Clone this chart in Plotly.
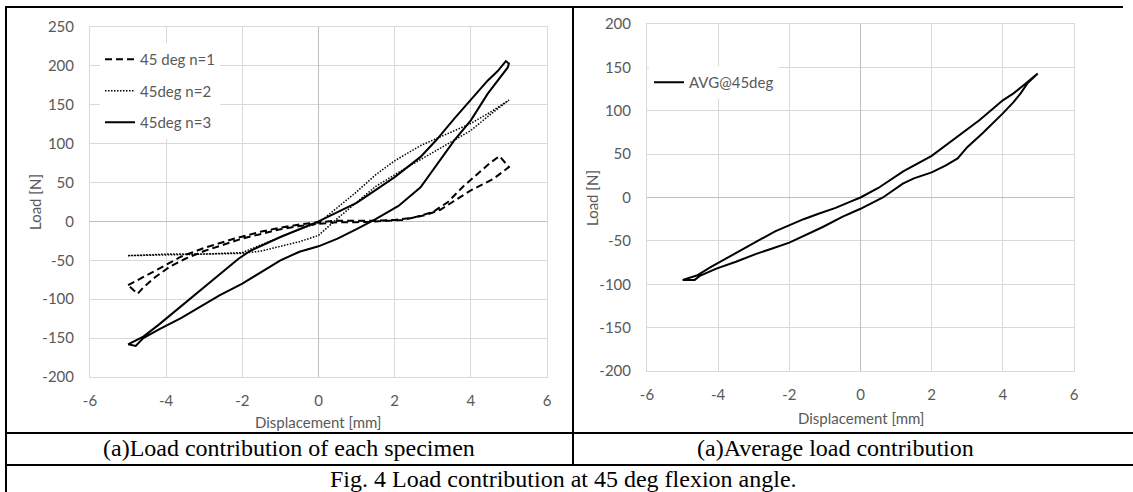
import plotly.graph_objects as go

W, H = 1133, 492

# specimen n=1 (dashed loop)
n1_x = [-5.0, -4.6, -4.16, -3.6, -3.0, -2.2, -1.5, -1.0, -0.5, 0.0, 0.5, 1.0, 1.5, 2.0, 2.5, 3.0,
        3.4, 3.8, 4.2, 4.5, 4.75, 5.0,
        4.6, 4.2, 4.0, 3.55, 3.2, 2.8, 2.2, 1.5, 1.0, 0.5, 0.0, -0.5, -1.0, -1.5, -2.0, -2.5,
        -3.0, -3.5, -3.9, -4.3, -4.6, -4.75, -5.0]
n1_y = [-82, -72, -60, -45, -34, -22, -13, -8, -4, -1, 1, 1, 1, 2, 5, 12,
        25, 45, 62, 75, 84, 70,
        55, 45, 40, 26, 15, 8, 2, 0, -1, -1, -3, -6, -10, -16, -22, -30,
        -38, -48, -58, -72, -85, -93, -82]

# specimen n=2 (dotted loop)
n2_x = [-5.0, -4.0, -3.0, -2.0, -1.5, -1.0, -0.5, 0.0, 0.5, 1.0, 1.5, 2.0, 2.7, 3.3, 4.0, 4.5, 5.0,
        4.5, 4.0, 3.3, 2.7, 2.2, 1.5, 1.0, 0.5, 0.0, -0.5, -1.0, -1.5, -2.0, -3.0, -4.0, -5.0]
n2_y = [-44, -42, -42, -40, -30, -20, -10, -2, 18, 38, 60, 78, 98, 111, 126, 140, 156,
        137, 117, 97, 80, 66, 45, 25, 4, -18, -26, -32, -38, -41, -42, -43, -44]

# specimen n=3 (solid loop)
n3_x = [-5.0, -4.6, -4.2, -3.5, -2.8, -2.1, -1.8, -1.0, -0.5, 0.0, 0.5, 1.0, 1.4, 2.0, 2.68, 3.1,
        3.56, 4.0, 4.44, 4.7, 4.92, 5.0,
        4.97, 4.44, 4.0, 3.56, 3.1, 2.68, 2.1, 1.5, 1.0, 0.5, 0.0, -0.5, -1.0, -1.5, -2.0,
        -2.6, -3.1, -3.6, -4.2, -4.6, -4.8, -5.0]
n3_y = [-158, -148, -133, -105, -77, -48, -38, -20, -10, 0, 12, 24, 37, 57, 83, 105,
        132, 156, 181, 193, 206, 203,
        198, 164, 130, 104, 73, 44, 20, 3, -10, -22, -32, -39, -50, -65, -80,
        -95, -110, -124, -139, -150, -160, -158]

# average loop
avg_x = [-5.0, -4.6, -4.2, -3.9, -3.3, -2.8, -2.4, -2.0, -1.6, -1.2, -0.7, -0.3, 0.0, 0.5, 1.2,
         2.0, 2.6, 3.34, 4.0, 4.3, 4.6, 4.98,
         4.7, 4.5, 4.3, 4.0, 3.43, 3.0, 2.73, 2.4, 2.0, 1.5, 1.19, 0.63, 0.0, -0.5, -1.06,
         -1.5, -2.0, -2.5, -2.93, -3.5, -4.05, -4.5, -4.66, -5.0]
avg_y = [-95, -90, -80, -73, -59, -48, -39, -32, -25, -19, -12, -5, 0, 11, 30,
         48, 66, 89, 112, 120, 130, 143,
         132, 120, 110, 97, 74, 58, 45, 37, 29, 22, 16, 0, -13, -22, -34,
         -42, -52, -59, -65, -74, -82, -90, -95, -95]

x_ticks = [-6, -4, -2, 0, 2, 4, 6]
x_labels = ["-6", "-4", "-2", "0", "2", "4", "6"]
y1_ticks = [-200, -150, -100, -50, 0, 50, 100, 150, 200, 250]
y1_labels = ["-200", "-150", "-100", "-50", "0", "50", "100", "150", "200", "250"]
y2_ticks = [-200, -150, -100, -50, 0, 50, 100, 150, 200]
y2_labels = ["-200", "-150", "-100", "-50", "0", "50", "100", "150", "200"]

GRID = "#d9d9d9"
TXT = "#595959"
SANS = "Lato"
SERIF = "Liberation Serif"


def px(v):
    return v / W


def py(v):
    return 1 - v / H


fig = go.Figure()
fig.add_trace(go.Scatter(x=n1_x, y=n1_y, mode="lines", name="45 deg n=1", legendgroup="a",
                         line=dict(color="black", width=2, dash="7px,4px")))
fig.add_trace(go.Scatter(x=n2_x, y=n2_y, mode="lines", name="45deg n=2", legendgroup="b",
                         line=dict(color="black", width=1.5, dash="1.5px,1.5px")))
fig.add_trace(go.Scatter(x=n3_x, y=n3_y, mode="lines", name="45deg n=3", legendgroup="c",
                         line=dict(color="black", width=2)))
fig.add_trace(go.Scatter(x=avg_x, y=avg_y, mode="lines", name="AVG@45deg",
                         xaxis="x2", yaxis="y2", legend="legend2",
                         line=dict(color="black", width=2)))

axis_common = dict(showgrid=True, gridcolor=GRID, gridwidth=1, zeroline=True,
                   zerolinecolor="#bfbfbf", zerolinewidth=1, showline=True, linecolor=GRID,
                   mirror=True, ticks="", automargin=False,
                   tickfont=dict(family=SANS, size=15, color=TXT))

fig.update_layout(
    width=W, height=H, autosize=False,
    margin=dict(l=0, r=0, t=0, b=0, autoexpand=False),
    paper_bgcolor="white", plot_bgcolor="white",
    xaxis=dict(domain=[px(90), px(547)], range=[-6, 6], tickvals=x_ticks, ticktext=x_labels,
               ticklabelstandoff=10, **axis_common),
    yaxis=dict(domain=[py(377), py(27)], range=[-200, 250], tickvals=y1_ticks,
               ticktext=y1_labels, ticklabelstandoff=12, **axis_common),
    xaxis2=dict(domain=[px(647), px(1074)], range=[-6, 6], tickvals=x_ticks, ticktext=x_labels,
                anchor="y2", ticklabelstandoff=10, **axis_common),
    yaxis2=dict(domain=[py(371), py(24)], range=[-200, 200], tickvals=y2_ticks,
                ticktext=y2_labels, anchor="x2", ticklabelstandoff=12, **axis_common),
    legend=dict(x=px(100), y=py(43), xanchor="left", yanchor="top", bgcolor="white",
                font=dict(family=SANS, size=15, color=TXT), tracegroupgap=9,
                itemwidth=30),
    legend2=dict(x=px(649), y=py(66), xanchor="left", yanchor="top", bgcolor="white",
                 font=dict(family=SANS, size=15, color=TXT), itemwidth=30),
    showlegend=True,
)

# axis titles
for xc, yc, t, ang in [(318, 422, "Displacement [mm]", 0), (35, 202, "Load [N]", -90),
                       (861, 418, "Displacement [mm]", 0), (592, 198, "Load [N]", -90)]:
    fig.add_annotation(x=px(xc), y=py(yc), xref="paper", yref="paper", text=t, showarrow=False,
                       textangle=ang, xanchor="center", yanchor="middle",
                       font=dict(family=SANS, size=15, color=TXT))

# caption table
for xc, yc, t in [(289, 448, "(a)Load contribution of each specimen"),
                  (835, 448, "(a)Average load contribution"),
                  (563, 479, "Fig. 4 Load contribution at 45 deg flexion angle.")]:
    fig.add_annotation(x=px(xc), y=py(yc), xref="paper", yref="paper", text=t, showarrow=False,
                       xanchor="center", yanchor="middle",
                       font=dict(family=SERIF, size=24, color="black"))

border = dict(color="black", width=2)
for x0, y0, x1, y1 in [(5, 7, 1123, 7), (6, 7, 6, 492), (573, 7, 573, 465),
                       (5, 433, 1133, 433), (5, 465, 1133, 465)]:
    fig.add_shape(type="line", xref="paper", yref="paper", x0=px(x0), y0=py(y0),
                  x1=px(x1), y1=py(y1), line=border)

# drop the default 8px body margin so the figure fills the window
fig.write_html("out.html", config={"displayModeBar": False},
               post_script="document.body.style.margin='0';document.body.style.overflow='hidden';")
